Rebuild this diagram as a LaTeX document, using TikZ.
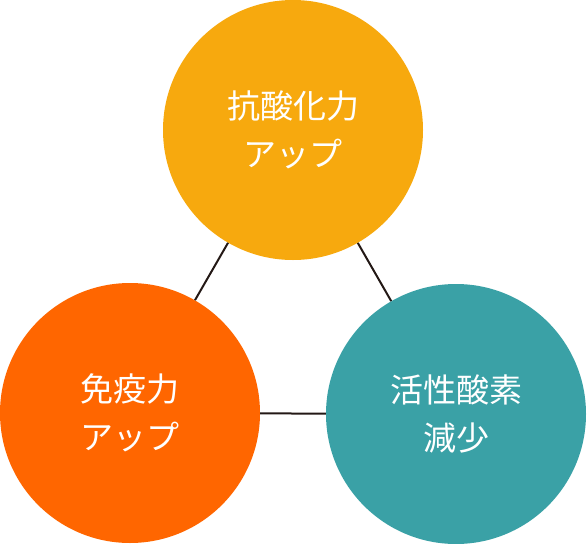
\documentclass[tikz,border=0pt]{standalone}
\usepackage{fontspec}
\newfontfamily\jpfont{Noto Sans CJK JP}
\definecolor{cyellow}{RGB}{247,169,14}
\definecolor{corange}{RGB}{255,102,0}
\definecolor{cteal}{RGB}{58,161,166}
\definecolor{clink}{RGB}{35,24,21}
\tikzset{
  bubble/.style={circle, inner sep=0pt, minimum size=260pt, text=white, align=center,
    font=\jpfont\fontsize{33}{48}\selectfont},
  link/.style={draw=clink, line width=2pt}
}
\begin{document}
\begin{tikzpicture}[x=1pt,y=-1pt]
\useasboundingbox (0,0) rectangle (587,544);
\node[bubble, fill=cyellow] (top) at (293,130) {抗酸化力\\アップ};
\node[bubble, fill=corange] (left) at (130,413) {免疫力\\アップ};
\node[bubble, fill=cteal] (right) at (456,414) {活性酸素\\減少};
\draw[link] (top) -- (left);
\draw[link] (top) -- (right);
\draw[link] (left) -- (right);
\end{tikzpicture}
\end{document}
